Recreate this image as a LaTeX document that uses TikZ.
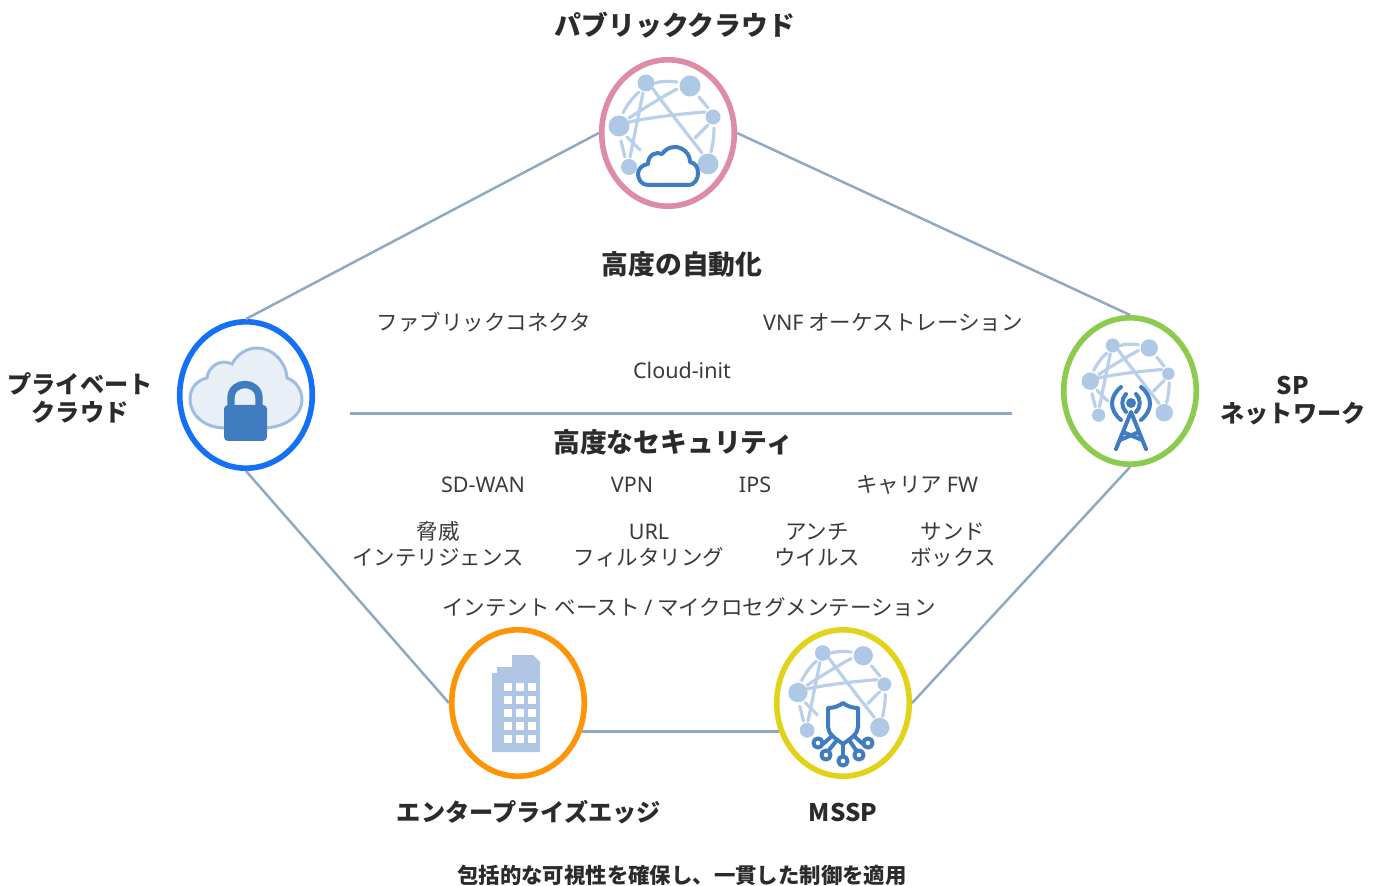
\documentclass[tikz,border=0pt]{standalone}
\usepackage{fontspec}
\usetikzlibrary{shapes.geometric}
\setmainfont{Noto Sans CJK JP}
\newfontfamily\lat{Noto Sans}
\definecolor{linkc}{HTML}{8FA9C2}
\definecolor{netc}{HTML}{AEC8E6}
\definecolor{iconc}{HTML}{3F7CC0}
\definecolor{bldc}{HTML}{AEC6E4}
\definecolor{txtc}{HTML}{2B2B2B}
\definecolor{bodyc}{HTML}{3A3A3A}
\definecolor{ringp}{HTML}{DE8BA6}
\definecolor{ringb}{HTML}{1470F5}
\definecolor{ringg}{HTML}{8CCB4E}
\definecolor{ringo}{HTML}{FF9408}
\definecolor{ringy}{HTML}{E3D21A}
\tikzset{
  ring/.style={ellipse,draw=#1,line width=2.8pt,fill=white,minimum width=66.3pt,minimum height=73.2pt,inner sep=0pt},
  link/.style={draw=linkc,line width=1.25pt},
  head/.style={text=txtc,align=center,font=\fontsize{13.4}{14}\selectfont\bfseries,inner sep=0pt},
  side/.style={text=txtc,align=center,font=\fontsize{12.1}{14}\selectfont\bfseries,inner sep=0pt},
  body/.style={text=bodyc,align=center,font=\fontsize{10.75}{13}\selectfont,inner sep=0pt},
  foot/.style={text=txtc,align=center,font=\fontsize{10.7}{13}\selectfont\bfseries,inner sep=0pt},
  netline/.style={draw=netc!85!white,line width=1.6pt,line cap=round},
  iconline/.style={draw=iconc,line width=2pt,line cap=round,line join=round},
}
\newcommand{\netmesh}{%
  \draw[netline] (-13,-50) .. controls (-6,-52) and (2,-52) .. (9,-51);
  \draw[netline] (31,-36) -- (40,-25);
  \draw[netline] (46,-5) .. controls (46,3) and (45,11) .. (43,19);
  \draw[netline] (-43,24) -- (-47,8);
  \draw[netline] (-45,-20) .. controls (-41,-28) and (-35,-36) .. (-29,-41);
  \draw[netline] (-15,-44) .. controls (-2,-26) and (20,2) .. (34,20);
  \draw[netline] (-39,-15) .. controls (-22,-26) and (-6,-36) .. (9,-44);
  \draw[netline] (-39,-11) .. controls (-15,-16) and (12,-19) .. (37,-21);
  \draw[netline] (-25,-40) -- (-38,24);
  \draw[netline] (-41,4) -- (-28,17);
  \draw[netline] (27,5) -- (40,-8);
  \fill[netc] (-22,-50) circle[radius=8.5];
  \fill[netc] (22,-47) circle[radius=10.5];
  \fill[netc] (45,-16) circle[radius=7.5];
  \fill[netc] (40,31) circle[radius=10.5];
  \fill[netc] (-39,34) circle[radius=8];
  \fill[netc] (-49,-7) circle[radius=10.5];
}
\begin{document}
\begin{tikzpicture}[x=0.5pt,y=-0.5pt]
\useasboundingbox (0,0) rectangle (1379,886);
% rings
\node[ring=ringp] (pub) at (668,133) {};
\node[ring=ringb] (priv) at (246,395) {};
\node[ring=ringg] (spn) at (1130,391) {};
\node[ring=ringo] (ent) at (518,703) {};
\node[ring=ringy] (mssp) at (843,703) {};
% connectors
\draw[link] (pub.west) -- (priv.north);
\draw[link] (pub.east) -- (spn.north);
\draw[link] (priv.south) -- (ent.west);
\draw[link] (spn.south) -- (mssp.east);
\draw[link] (ent.-24) -- (mssp.204);
\coordinate (sepl) at (350,413.5);
\coordinate (sepr) at (1012,413.5);
\draw[draw=linkc,line width=1.6pt] (sepl) -- (sepr);
% public cloud icon
\begin{scope}[shift={(668,133)}]
  \netmesh
  \draw[iconline,fill=white] (-20,52) -- (20,52) .. controls (27,52) and (30,46) .. (30,40) .. controls (30,34) and (27,30) .. (22,29) .. controls (22,20) and (14,14) .. (7,14) .. controls (1,14) and (-3,17) .. (-6,21) .. controls (-12,18) and (-20,22) .. (-20,31) .. controls (-26,32) and (-30,36) .. (-30,41) .. controls (-30,47) and (-26,52) .. (-20,52) -- cycle;
\end{scope}
% private cloud icon
\begin{scope}[shift={(246,395)}]
  \draw[draw=iconc!50!white,fill=iconc!12!white,line width=1.5pt] (-23,33) .. controls (-42,32) and (-56,20) .. (-56,4) .. controls (-56,-8) and (-48,-15) .. (-39,-17) .. controls (-38,-28) and (-26,-37) .. (-14,-31) .. controls (-9,-41) and (1,-47) .. (11,-47) .. controls (27,-47) and (40,-33) .. (41,-17) .. controls (50,-14) and (56,-5) .. (56,5) .. controls (56,20) and (40,32) .. (19,33) -- cycle;
  \draw[draw=iconc,line width=3.7pt] (-15,13) -- (-15,3) .. controls (-15,-15) and (13,-15) .. (13,3) -- (13,13);
  \fill[iconc,rounded corners=2pt] (-22,10) rectangle (21,46);
\end{scope}
% SP tower icon
\begin{scope}[shift={(1131,387)},scale=.83]
  \netmesh
\end{scope}
\begin{scope}[shift={(1130,391)}]
  \fill[white] (1,14) circle[radius=14];
  \fill[iconc] (1,12) circle[radius=5];
  \draw[iconline] (-4,3) .. controls (-9,8) and (-9,16) .. (-4,21);
  \draw[iconline] (6,3) .. controls (11,8) and (11,16) .. (6,21);
  \draw[iconline] (-9,-4) .. controls (-21,6) and (-21,19) .. (-9,29);
  \draw[iconline] (11,-4) .. controls (23,6) and (23,19) .. (11,29);
  \draw[iconline] (-14,58) -- (1,21) -- (16,58);
  \draw[iconline] (-7,41) -- (12,49);
  \draw[iconline] (9,41) -- (-10,49);
\end{scope}
% enterprise building icon
\begin{scope}[shift={(518,703)}]
  \fill[bldc] (-26,49) -- (-26,-30) -- (-21,-30) -- (-21,-36) -- (-6,-36) -- (-6,-48) -- (15,-48) -- (22,-41) -- (22,49) -- cycle;
  \foreach \wx in {-10,2,14}
    \foreach \wy in {-16,-3,10,23,36}
      \fill[white] (\wx-4,\wy-4) rectangle (\wx+4,\wy+4);
\end{scope}
% MSSP shield icon
\begin{scope}[shift={(843,699)},scale=.92]
  \netmesh
\end{scope}
\begin{scope}[shift={(843,703)}]
  \draw[iconline,fill=white] (0,0) .. controls (-4,3) and (-9,5) .. (-15,5) -- (-15,24) .. controls (-15,31) and (-7,36) .. (0,41) .. controls (7,36) and (15,31) .. (15,24) -- (15,5) .. controls (9,5) and (4,3) .. (0,0) -- cycle;
  \draw[iconline] (0,41) -- (0,54);
  \draw[iconline] (-11,33) -- (-20,41);
  \draw[iconline] (11,33) -- (20,41);
  \draw[iconline] (-6,37) -- (-14,47);
  \draw[iconline] (6,37) -- (13,47);
  \foreach \cx/\cy in {0/58,-25/40,-17/52,16/52,25/40}
    \draw[iconline,fill=white] (\cx,\cy) circle[radius=4.6];
\end{scope}
% labels
\node[head] (tpub) at (675,25) {パブリッククラウド};
\node[side] (tpriv) at (80,398) {プライベート\\クラウド};
\node[side] (tsp) at (1293,400.5) {SP\\ネットワーク};
\node[side] (tent) at (529,812) {エンタープライズエッジ};
\node[side] (tmssp) at (843,812) {MSSP};
\node[head] (tauto) at (682,264) {高度の自動化};
\node[head] (tsec) at (673,442) {高度なセキュリティ};
\node[body] (b1) at (484,322) {ファブリックコネクタ};
\node[body] (b2) at (893,323) {{\lat VNF} オーケストレーション};
\node[body] (b3) at (682,370) {\lat Cloud-init};
\node[body] (b4) at (483,484.5) {\lat SD-WAN};
\node[body] (b5) at (632,484.5) {\lat VPN};
\node[body] (b6) at (755,484.5) {\lat IPS};
\node[body] (b7) at (917,485) {キャリア {\lat FW}};
\node[body] (b8) at (438,544) {脅威\\インテリジェンス};
\node[body] (b9) at (649,544) {\vphantom{脅}{\lat URL}\\フィルタリング};
\node[body] (b10) at (817,544.5) {アンチ\\ウイルス};
\node[body] (b11) at (953,544.5) {サンド\\ボックス};
\node[body] (b12) at (689,607) {インテント ベースト {\lat /} マイクロセグメンテーション};
\node[foot] (tfoot) at (682,875) {包括的な可視性を確保し、一貫した制御を適用};
\end{tikzpicture}
\end{document}
